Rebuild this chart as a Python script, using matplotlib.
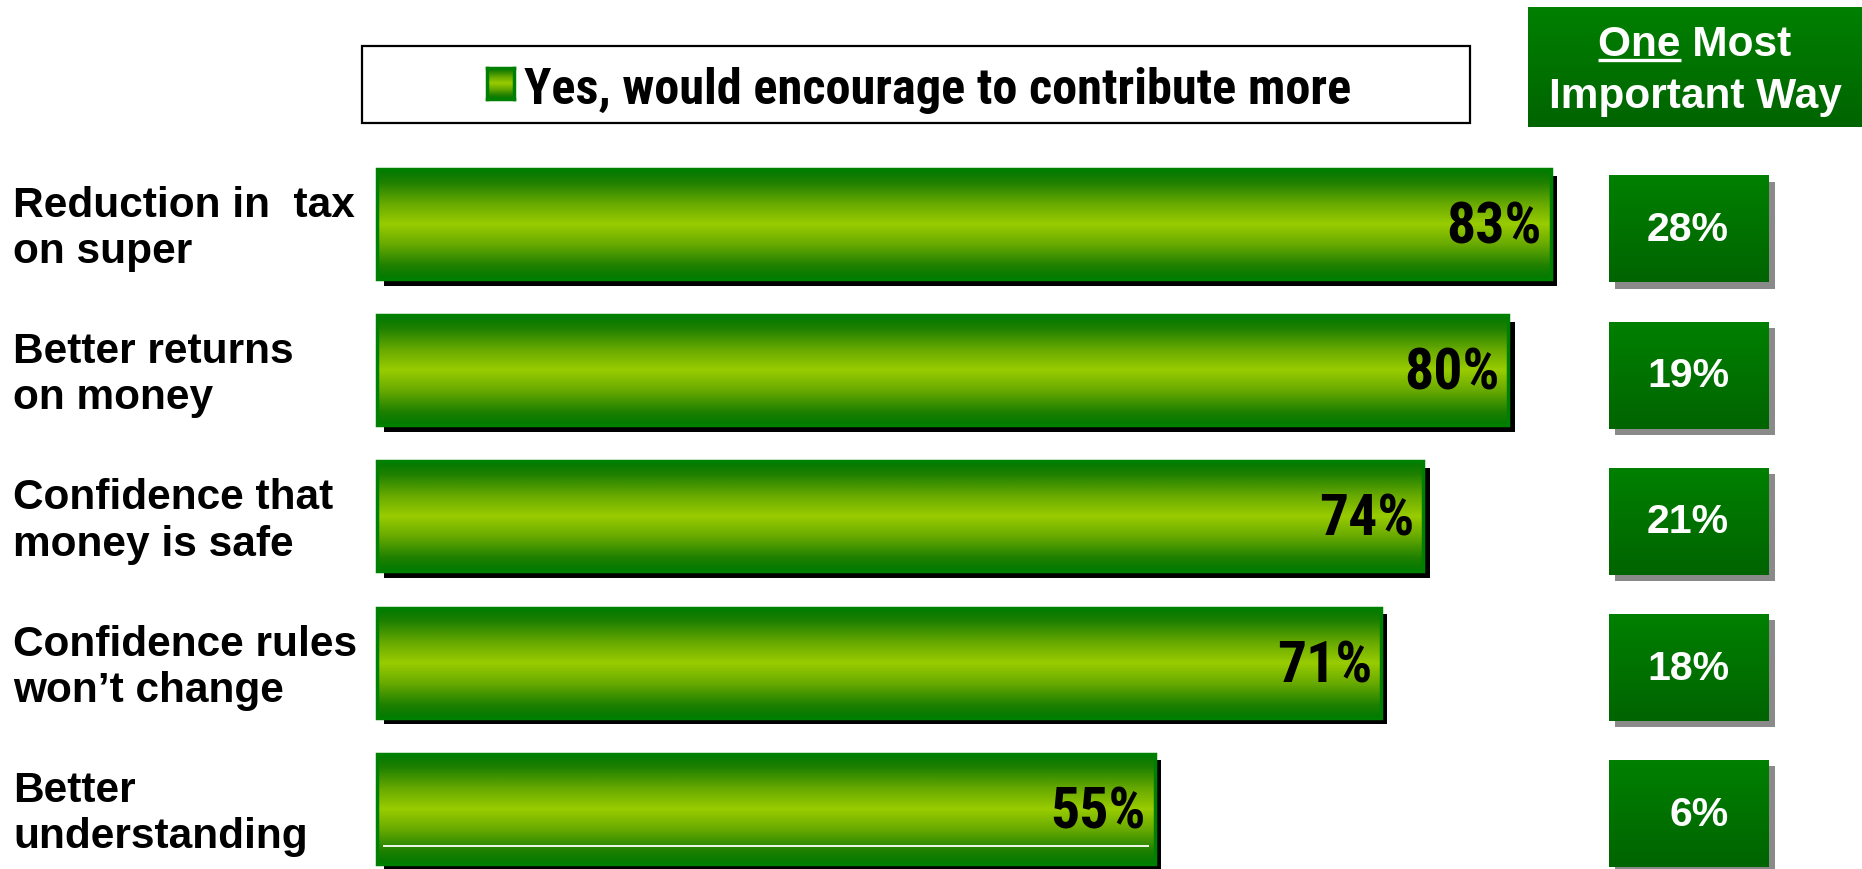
import numpy as np
import matplotlib
matplotlib.use('Agg')
import matplotlib.pyplot as plt
from matplotlib.colors import LinearSegmentedColormap
from matplotlib.patches import Rectangle
from matplotlib import transforms, font_manager

# data
categories = ['Reduction in  tax\non super', 'Better returns\non money',
              'Confidence that\nmoney is safe', 'Confidence rules\nwon\u2019t change',
              'Better\nunderstanding']
encourage = [83, 80, 74, 71, 55]
one_most = [28, 19, 21, 18, 6]
legend_label = 'Yes, would encourage to contribute more'
header_top = 'One Most'
header_bottom = 'Important Way'
header_underlined = 'One'

W, H = 1862, 870
fig = plt.figure(figsize=(W / 100, H / 100), dpi=100)
fig.patch.set_facecolor('white')
renderer = fig.canvas.get_renderer()

names = {f.name for f in font_manager.fontManager.ttflist}
bold = 'Liberation Sans' if 'Liberation Sans' in names else 'DejaVu Sans'
narrow = next((n for n in ['Roboto Condensed', 'PT Sans Narrow', 'Fira Sans Condensed']
               if n in names), bold)


def fit_size(text, family, target_px, base=40):
    # font size that makes the text target_px wide
    t = fig.text(0, 0, text, fontsize=base, fontweight='bold', family=family)
    w = t.get_window_extent(renderer).width
    t.remove()
    return base * target_px / w


bar_cmap = LinearSegmentedColormap.from_list('bar', [
    (0.0, '#007a00'), (0.12, '#1f8000'), (0.32, '#6aab00'), (0.5, '#99cc00'),
    (0.68, '#6aab00'), (0.88, '#1f8000'), (1.0, '#007a00')])
box_cmap = LinearSegmentedColormap.from_list('box', ['#008000', '#006400'])
grad = np.linspace(0, 1, 256).reshape(-1, 1)

# main bar axes: x in percent, y in rows
px_per_pct = 14.14
x0_px = 377
row_px = 146.25
first_row_px = 225
ax = fig.add_axes([x0_px / W, 0, 87 * px_per_pct / W, 1])
ax.axis('off')
ylim = (len(categories) - 1 + (H - first_row_px - (len(categories) - 1) * row_px) / row_px,
        -first_row_px / row_px)

bar_h = 110 / row_px
shadow_tr = transforms.offset_copy(ax.transData, fig=fig, x=6.5, y=-6.5, units='dots')
label_tr = transforms.offset_copy(
    transforms.blended_transform_factory(fig.transFigure, ax.transData),
    fig=fig, x=0, y=-4, units='dots')
pct_size = fit_size('83%', narrow, 95)

for i, (cat, v) in enumerate(zip(categories, encourage)):
    ax.add_patch(Rectangle((0, i - bar_h / 2), v, bar_h, facecolor='black',
                           edgecolor='none', transform=shadow_tr, zorder=1, clip_on=False))
    ax.imshow(grad, cmap=bar_cmap, aspect='auto', interpolation='bilinear',
              extent=[0, v, i + bar_h / 2, i - bar_h / 2], zorder=2)
    ax.add_patch(Rectangle((0, i - bar_h / 2), v, bar_h, fill=False,
                           edgecolor='#008000', lw=2.5, zorder=3, clip_on=False))
    ax.annotate(f'{v}%', xy=(v, i), xytext=(-9, -3), textcoords='offset pixels',
                ha='right', va='center', fontsize=pct_size, fontweight='bold',
                family=narrow, color='black', zorder=4)
    ax.text(13 / W, i, cat, transform=label_tr, ha='left', va='center',
            fontsize=30.5, fontweight='bold', family=bold, linespacing=1.2)

# thin white streak on the last bar
last = len(encourage) - 1
ax.hlines(last + 0.253, 0.4, encourage[last] - 0.4, color='white', lw=1.3, zorder=3)

ax.set_xlim(0, 87)
ax.set_ylim(*ylim)

# right column: one most important way
bx = fig.add_axes([1609 / W, 0, 160 / W, 1])
bx.axis('off')
box_h = 107 / row_px
box_shift = 5 / row_px
box_shadow_tr = transforms.offset_copy(bx.transData, fig=fig, x=6, y=-6, units='dots')
for i, v in enumerate(one_most):
    c = i + box_shift
    bx.add_patch(Rectangle((0, c - box_h / 2), 1, box_h, facecolor='#8a8a8a',
                           edgecolor='none', transform=box_shadow_tr, zorder=1, clip_on=False))
    bx.imshow(grad, cmap=box_cmap, aspect='auto', interpolation='bilinear',
              extent=[0, 1, c + box_h / 2, c - box_h / 2], zorder=2)
    bx.text(0.75, c, f'{v}%', ha='right', va='center', color='white',
            fontsize=29.5, fontweight='bold', family=bold, zorder=3)
bx.set_xlim(0, 1)
bx.set_ylim(*ylim)

# header box
hx = fig.add_axes([1528 / W, (H - 128) / H, 334 / W, 120 / H])
hx.axis('off')
hx.imshow(grad, cmap=box_cmap, aspect='auto', extent=[0, 1, 0, 1])
hx.set_xlim(0, 1)
hx.set_ylim(0, 1)
top_txt = hx.text(0.5, 0.60, header_top, ha='center', va='baseline', color='white',
                  fontsize=30.5, fontweight='bold', family=bold)
hx.text(0.5, 0.17, header_bottom, ha='center', va='baseline', color='white',
        fontsize=30.5, fontweight='bold', family=bold)
bb = top_txt.get_window_extent(renderer)
probe = fig.text(0, 0, header_underlined, fontsize=30.5, fontweight='bold', family=bold)
w_one = probe.get_window_extent(renderer).width
probe.remove()
inv = hx.transAxes.inverted()
(ux0, _), (ux1, _) = inv.transform([(bb.x0, 0), (bb.x0 + w_one, 0)])
uy = 0.60 - 5 / 120
hx.plot([ux0, ux1], [uy, uy], color='white', lw=2.4, solid_capstyle='butt')

# legend box
fig.patches.append(Rectangle((362 / W, (H - 124) / H), 1108 / W, 77 / H,
                             transform=fig.transFigure, facecolor='white',
                             edgecolor='black', lw=1.6, zorder=0))
mk = fig.add_axes([487 / W, (H - 100) / H, 27 / W, 31 / H], zorder=5)
mk.imshow(grad, cmap=bar_cmap, aspect='auto', extent=[0, 1, 0, 1])
mk.set_xticks([])
mk.set_yticks([])
for s in mk.spines.values():
    s.set_color('#008000')
    s.set_linewidth(2.5)
fig.text(524 / W, (H - 104.5) / H, legend_label, ha='left', va='baseline',
         fontsize=fit_size(legend_label, narrow, 826), fontweight='bold', family=narrow,
         zorder=5)

fig.savefig('out.png', dpi=100)
